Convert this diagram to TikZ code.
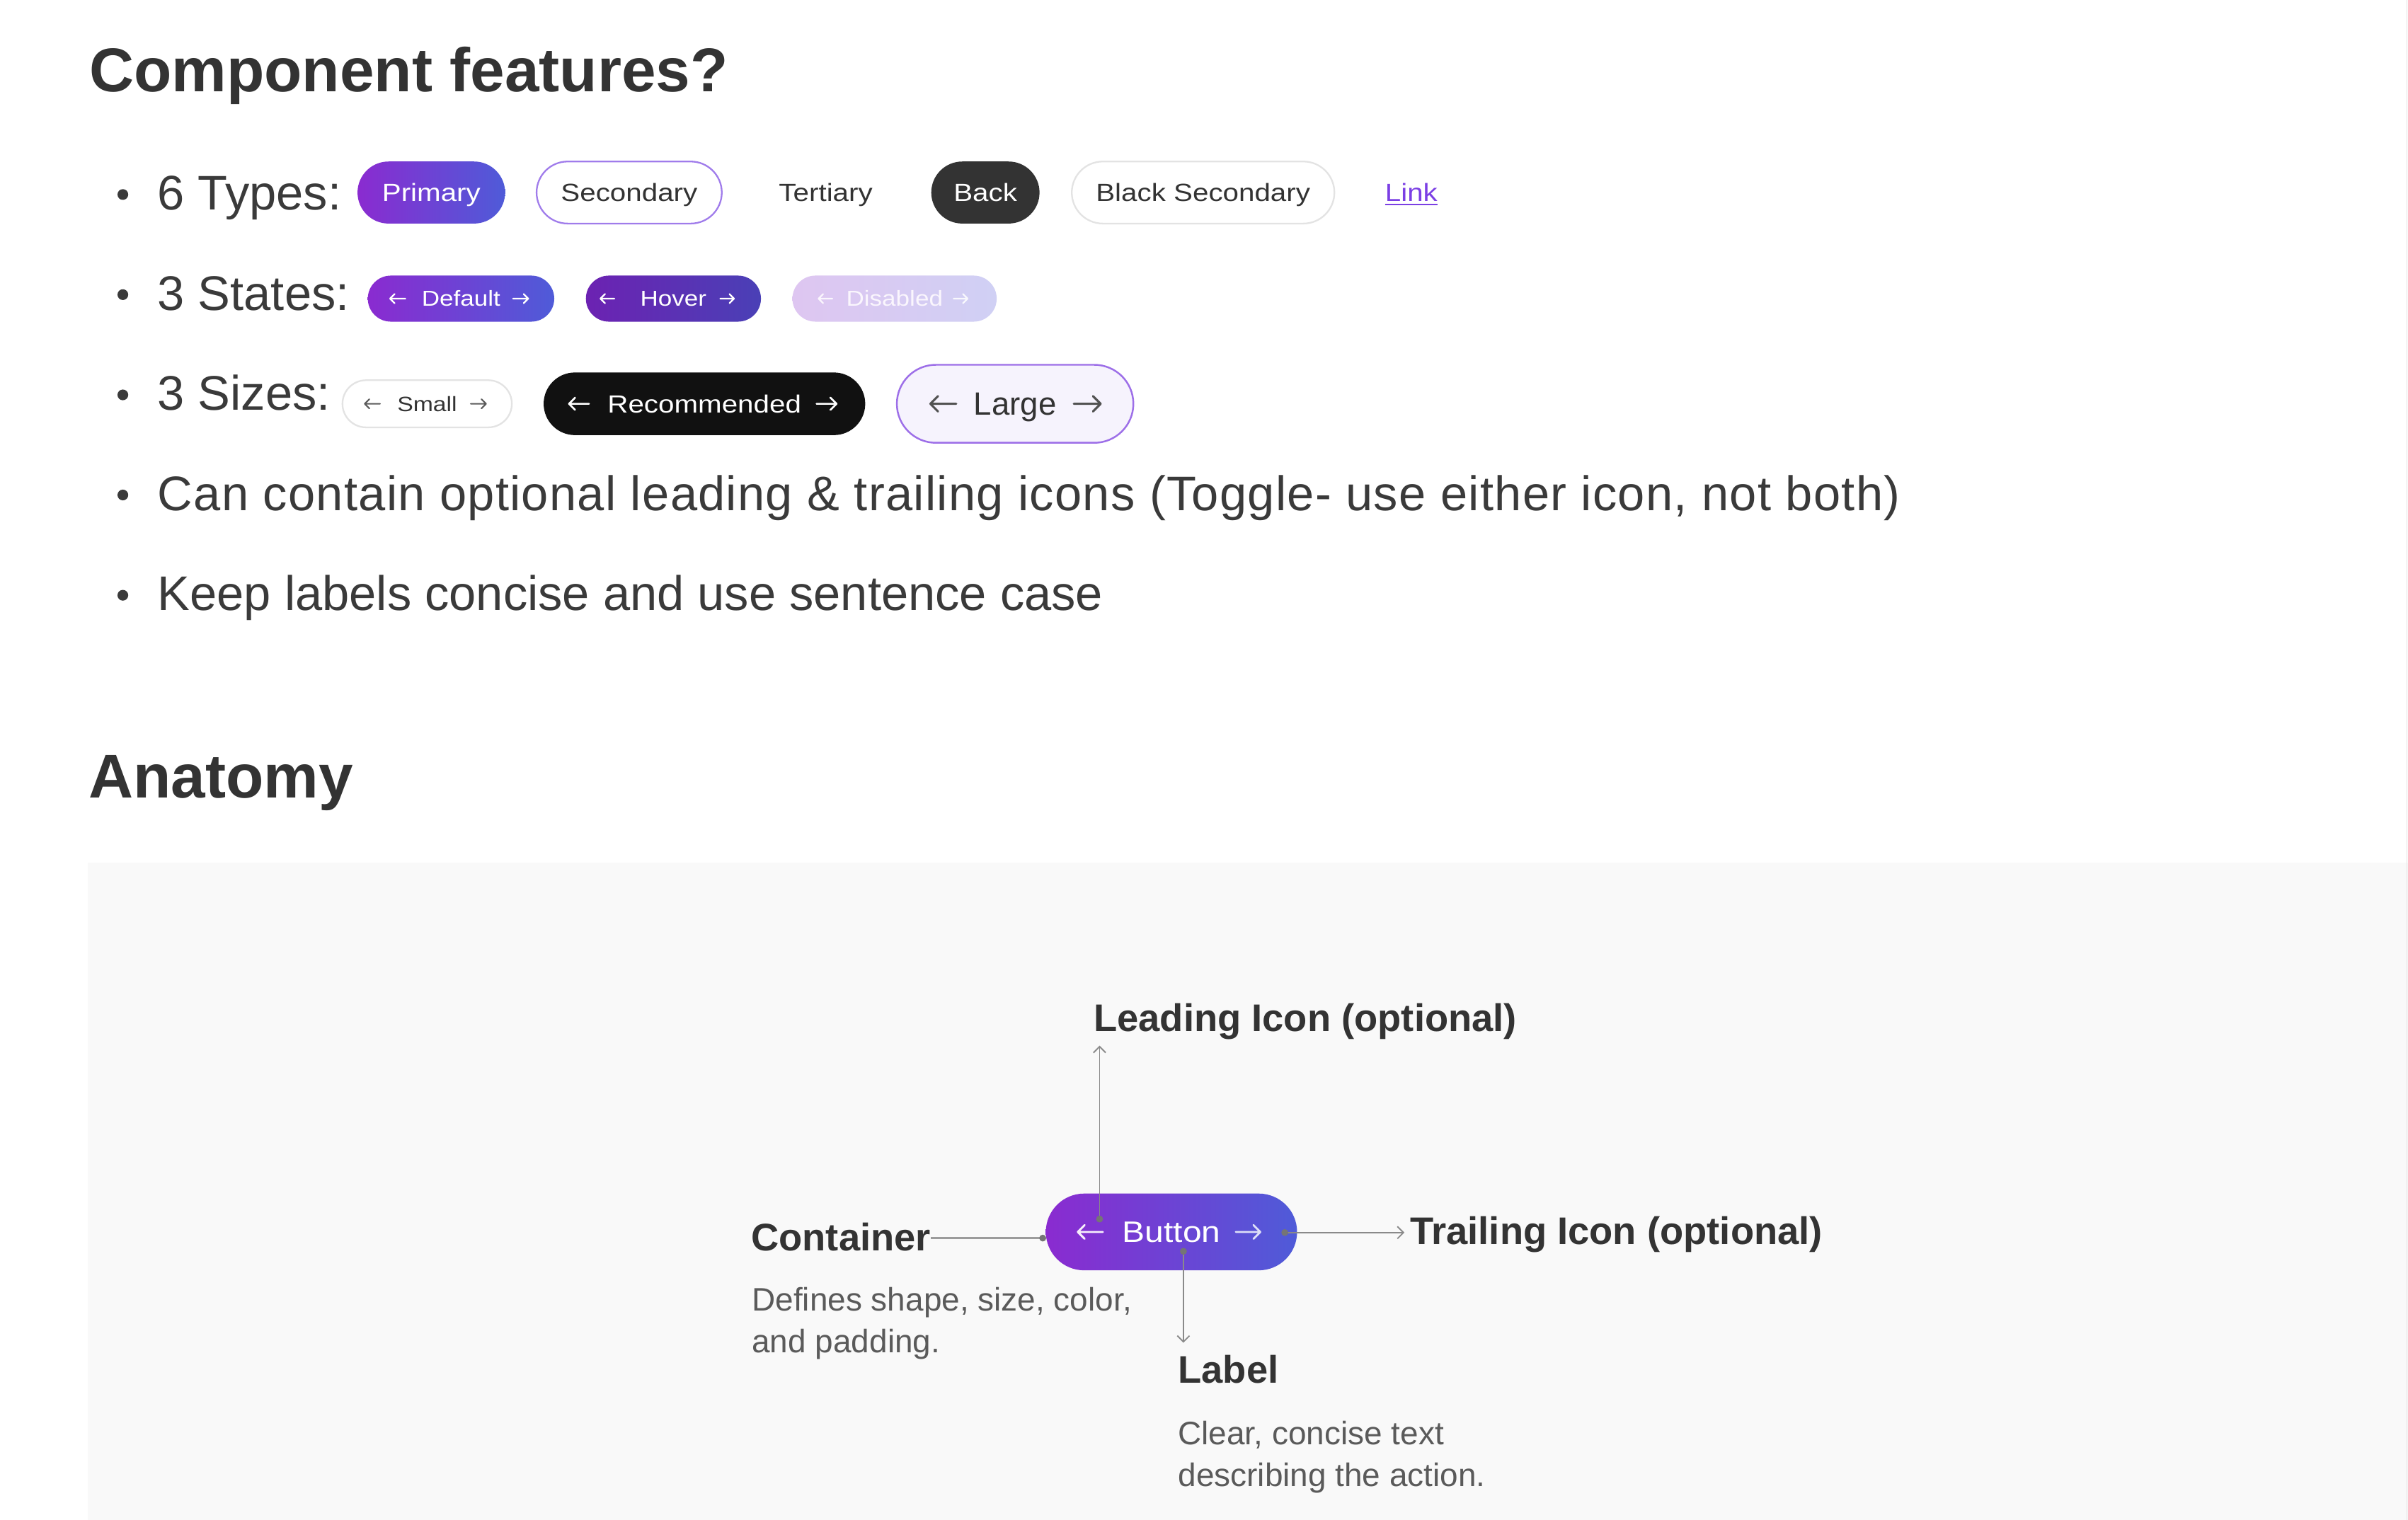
\documentclass[tikz,border=0pt]{standalone}
\usepackage{fontspec}
\setmainfont{Liberation Sans}
\newfontfamily\btnf[FakeStretch=1.15]{Liberation Sans}
\newfontfamily\widef[LetterSpace=1.9]{Liberation Sans}
\usetikzlibrary{arrows.meta}
\definecolor{ink}{HTML}{333333}
\definecolor{bodyc}{HTML}{3A3A3A}
\definecolor{desc}{HTML}{5A5A5A}
\definecolor{gA}{HTML}{8A2BD0}
\definecolor{gB}{HTML}{4F5BD8}
\definecolor{hA}{HTML}{6C22B2}
\definecolor{hB}{HTML}{4A40B6}
\definecolor{dA}{HTML}{DEC6F1}
\definecolor{dB}{HTML}{D0D0F4}
\definecolor{secb}{HTML}{A07CEB}
\definecolor{greyb}{HTML}{E3E3E3}
\definecolor{lav}{HTML}{F6F3FD}
\definecolor{lavb}{HTML}{9D6FE8}
\definecolor{linkc}{HTML}{7B3FE4}
\definecolor{panelc}{HTML}{F9F9F9}
\definecolor{conn}{HTML}{8A8A8A}
\definecolor{backc}{HTML}{333333}
\definecolor{recc}{HTML}{111111}
\newcommand\fs[1]{\fontsize{#1}{#1}\selectfont}
% arrow icons: x1 x2 y colour head linewidth
\newcommand\icoL[6]{\draw[#4, line width=#6, line cap=round, line join=round] (#2,#3) -- (#1,#3) (#1+#5,#3-#5) -- (#1,#3) -- (#1+#5,#3+#5);}
\newcommand\icoR[6]{\draw[#4, line width=#6, line cap=round, line join=round] (#1,#3) -- (#2,#3) (#2-#5,#3-#5) -- (#2,#3) -- (#2-#5,#3+#5);}
\begin{document}
\begin{tikzpicture}[x=0.04cm,y=-0.04cm,
  txt/.style={inner sep=0pt, anchor=base west},
  pill/.style 2 args={rectangle, inner sep=0pt, minimum width=#1*0.04cm, minimum height=#2*0.04cm, rounded corners=#2*0.02cm},
  bodytxt/.style={txt, font=\fs{36pt}, text=bodyc},
  headtxt/.style={txt, font=\bfseries\fs{45.8pt}, text=ink},
  b18/.style={font=\btnf\fs{18.4pt}, text height=13.2pt, text depth=0pt},
  b16/.style={font=\btnf\fs{16pt}, text height=11.5pt, text depth=0pt},
  b15/.style={font=\btnf\fs{15.4pt}, text height=11pt, text depth=0pt},
  lbl/.style={txt, font=\bfseries\fs{28.5pt}, text=ink},
  dsc/.style={txt, font=\fs{24.1pt}, text=desc},
  connline/.style={draw=conn, line width=1pt},
  tip/.style={-{Straight Barb[length=4.5pt,width=9pt]}},
  dotc/.style={fill=conn!85!black}
]
\useasboundingbox (0,0) rectangle (1568,990);
\fill[white] (0,0) rectangle (1568,990);
% anatomy panel
\fill[panelc] (57,562) rectangle (1568,990);
\draw[greyb, line width=0.8pt] (1567.3,0) -- (1567.3,990);

% headings
\node[headtxt] (title) at (58,59.8) {Component features?};
\node[headtxt] (anat) at (57.5,519.5) {Anatomy};

% bullets
\foreach \yy in {136.7,201.9,267.2,332.4,397.7}
  \fill[bodyc] (80,\yy-10) circle[radius=0.14cm];
\node[bodytxt] (l1) at (102.5,136.7) {6 Types:};
\node[bodytxt] (l2) at (102.5,201.9) {3 States:};
\node[bodytxt] (l3) at (102.5,267.2) {3 Sizes:};
\node[bodytxt, font=\widef\fs{36pt}] (l4) at (102.5,332.4) {Can contain optional leading \& trailing icons (Toggle- use either icon, not both)};
\node[bodytxt] (l5) at (102.5,397.7) {Keep labels concise and use sentence case};

% row 1: types
\node[pill={96.1}{40.4}, left color=gA, right color=gB, text=white, b18] (primary) at (280.85,125.4) {Primary};
\node[pill={120.6}{40.4}, fill=white, draw=secb, line width=1.2pt, text=ink, b18] (secondary) at (409.7,125.4) {Secondary};
\node[inner sep=0pt, text=ink, b18] (tertiary) at (537.7,125.4) {Tertiary};
\node[pill={70.5}{40.4}, fill=backc, text=white, b18] (back) at (641.65,125.4) {Back};
\node[pill={171}{40.4}, fill=white, draw=greyb, line width=1.2pt, text=ink, b18] (blacksec) at (783.4,125.4) {Black Secondary};
\node[inner sep=0pt, text=linkc, b18] (link) at (919,125.4) {Link};
\draw[linkc, line width=1.1pt] ([yshift=-2.2pt]link.south west) -- ([yshift=-2.2pt]link.south east);

% row 2: states
\node[pill={121.4}{30}, left color=gA, right color=gB, text=white, b16] (default) at (300.2,194.5) {Default};
\icoL{254}{264}{194.5}{white}{3}{1.2pt}
\icoR{334}{344}{194.5}{white}{3}{1.2pt}
\node[pill={114}{30}, left color=hA, right color=hB, text=white, b16] (hover) at (438.5,194.5) {Hover};
\icoL{391}{400}{194.5}{white}{3}{1.2pt}
\icoR{469}{478}{194.5}{white}{3}{1.2pt}
\node[pill={133}{30}, left color=dA, right color=dB, text=white!85!dA, b16] (disabled) at (582.5,194.5) {Disabled};
\icoL{533}{542}{194.5}{white!85!dA}{3}{1.2pt}
\icoR{621}{630}{194.5}{white!85!dB}{3}{1.2pt}

% row 3: sizes
\node[pill={110.3}{30.7}, fill=white, draw=greyb, line width=1.2pt, text=ink, b15] (small) at (278.15,263) {Small};
\icoL{237.5}{247.5}{263}{ink!80}{3}{1.1pt}
\icoR{306.5}{316.5}{263}{ink!80}{3}{1.1pt}
\node[pill={209.4}{40.8}, fill=recc, text=white, b18] (recommended) at (458.7,263) {Recommended};
\icoL{370.5}{383.5}{263}{white}{4}{1.4pt}
\icoR{531.7}{544.7}{263}{white}{4}{1.4pt}
\node[pill={154}{50.8}, fill=lav, draw=lavb, line width=1.3pt, text=ink, font=\fs{23.9pt}, text height=17.1pt, text depth=0pt] (large) at (661,263) {Large};
\icoL{605.8}{622.7}{263}{ink!85}{5}{1.6pt}
\icoR{699.2}{716.7}{263}{ink!85}{5}{1.6pt}

% anatomy
\node[pill={163.6}{50}, left color=gA, right color=gB, text=white, font=\btnf\fs{21.9pt}, text height=15.7pt, text depth=0pt] (btn) at (762.8,802.4) {Button};
\icoL{701.8}{718.2}{802.4}{white!92!gA}{4.5}{1.5pt}
\icoR{804.7}{820.7}{802.4}{white!80!gB}{4.5}{1.5pt}

\node[lbl] (lead) at (712,671.6) {Leading Icon (optional)};
\node[lbl] (cont) at (489,814.6) {Container};
\node[dsc] (contd1) at (489.5,853.9) {Defines shape, size, color,};
\node[dsc] (contd2) at (489.5,881) {and padding.};
\node[lbl] (trail) at (918,810.3) {Trailing Icon (optional)};
\node[lbl] (lab) at (767,900.9) {Label};
\node[dsc] (labd1) at (767,940.9) {Clear, concise text};
\node[dsc] (labd2) at (767,967.9) {describing the action.};

\coordinate (ldot) at (716,794);
\coordinate (cdot) at (679,806.4);
\coordinate (tdot) at (836.6,802.8);
\coordinate (bdot) at (770.6,815);

\draw[connline, tip, shorten >=0.16cm] (ldot) -- (ldot |- lead.south);
\draw[draw=conn!85, line width=1.7pt] (cont.east |- cdot) -- (cdot);
\draw[connline, tip, shorten >=0.14cm] (tdot) -- (trail.west |- tdot);
\draw[connline, tip, shorten >=0.32cm] (bdot) -- (bdot |- lab.north);
\foreach \d in {ldot,cdot,tdot,bdot}
  \fill[dotc] (\d) circle[radius=0.09cm];
\end{tikzpicture}
\end{document}
